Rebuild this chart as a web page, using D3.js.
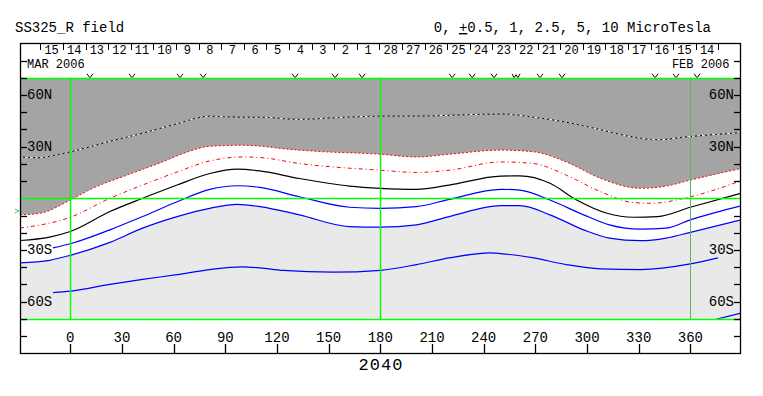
<!DOCTYPE html>
<html>
<head>
<meta charset="utf-8">
<script src="https://cdn.jsdelivr.net/npm/d3@7"></script>
<style>
  body { margin: 0; background: #fff; }
  text { font-family: "Liberation Mono", "DejaVu Sans Mono", monospace; }
</style>
</head>
<body>
<div id="container"></div>
<script>
(function(){

  // field contours, [longitude, latitude]
  var topDashed = [[-29.2,24],[-17.6,23.5],[-10,24.8],[0,26.9],[23,33.1],[42,37.8],[62,43.3],[81,47.7],[97,47.1],[110,47.1],[133,45.8],[152,46.7],[180,47.7],[201,47.7],[220,48.2],[250,49.0],[269,47.1],[288,44.2],[308,39.8],[327,35.5],[341,34.0],[360,35.9],[389.4,38.1]]
  var redDotted = [[-29.2,-9.6],[-17.6,-8.7],[0,-1.0],[13,5.8],[33,13.5],[52,20.5],[68,26.9],[81,30.2],[100,30.8],[110,30.3],[123.5,28.8],[143,27.3],[180,25.6],[201,24.0],[220,25.6],[250,28.0],[269,27.0],[288,21.1],[308,11.5],[331,5.8],[346,7.1],[360,10.6],[389.4,17.3]]
  var redDashDot = [[-29.2,-17.3],[0,-11.0],[23,0],[42,7.7],[62,15.3],[81,21.7],[100,24.0],[110,23.7],[133,20.2],[180,16.3],[201,15.0],[220,16.3],[250,21.1],[269,20.2],[288,13.4],[308,3.8],[327,-2.5],[337,-2.9],[360,0.9],[389.4,10.2]]
  var blackSolid = [[-29.2,-24.5],[-12,-22.5],[0,-19.3],[23,-7.7],[42,0],[62,7.7],[81,14.4],[97,16.9],[110,15.9],[133,11.5],[162,7.1],[180,5.8],[201,5.2],[220,7.7],[250,12.9],[261,13.0],[278.5,8.7],[294,-1.0],[311.6,-8.7],[327,-11.0],[341,-10.6],[360,-5.2],[389.4,2.9]]
  var blue1 = [[-10,-28.8],[0,-26.4],[23,-18.3],[42,-10.6],[62,-2.0],[81,5.2],[97,7.3],[110,6.3],[133,0.9],[162,-5.2],[180,-5.8],[201,-4.8],[220,-0.6],[250,5.2],[261,4.8],[278.5,-1.0],[298,-9.6],[313,-15.4],[331,-17.9],[346,-17.3],[360,-12.5],[389.4,-4.4]]
  var blue2 = [[-29.2,-37.5],[-12,-36.0],[0,-33.1],[23,-25.6],[42,-17.3],[62,-10.6],[81,-5.8],[97,-3.5],[110,-4.8],[133,-9.6],[162,-16.4],[180,-16.7],[201,-15.4],[220,-10.6],[250,-4.3],[261,-4.3],[278.5,-9.6],[298,-18.3],[313,-23.1],[331,-24.6],[346,-23.1],[360,-19.8],[389.4,-12.5]]
  var blue3 = [[-10,-54.8],[0,-53.9],[23,-50.0],[42,-47.1],[62,-44.3],[81,-41.4],[100,-39.8],[110,-40.4],[123.5,-41.9],[152.5,-42.9],[180,-41.8],[201,-38.5],[220,-34.6],[244,-31.7],[250,-32.1],[269,-34.6],[288,-38.5],[308,-41.0],[331,-41.4],[360,-38.1],[376,-34.6]]
  var blue4 = [[374,-70.5],[389.4,-66.7]]

  // axes
  var lonTicks = [0,30,60,90,120,150,180,210,240,270,300,330,360]
  var latMinor = [80,70,50,40,20,10,-10,-20,-40,-50,-70,-80]
  var latLabels = [60,30,-30,-60]
  var gridLon = [0,180,360]
  var gridLat = [70,0,-70]

  // dates along the top strip
  var dayLabels = ["15","14","13","12","11","10","9","8","7","6","5","4","3","2","1",
                   "28","27","26","25","24","23","22","21","20","19","18","17","16","15","14"]
  // pass markers: 1 = single v, 2 = double (w)
  var passLon = [11.4,35.8,63.7,77.1,130.5,153.7,169.4,221.7,233.3,246.0,258.8,272.7,285.5,339.5,351.7,363.9]
  var passCount = [1,1,1,1,1,1,1,1,1,1,2,1,1,1,1,1]
  var subsolarLat = -6.8

  var width = 763, height = 396

  var svg = d3.select("#container").append("svg")
      .attr("width", width).attr("height", height)

  var x = d3.scaleLinear().domain([-29.2, 389.4]).range([20, 741])
  var y = d3.scaleLinear().domain([90, -90]).range([43.3, 353.3])
  var days = d3.scaleBand().domain(d3.range(dayLabels.length)).range([x(-17.4), x(376.3)])

  var mapTop = y(70), mapBot = y(-70)

  svg.append("clipPath").attr("id","mapclip")
    .append("rect").attr("x",20).attr("y",mapTop).attr("width",721).attr("height",mapBot-mapTop)

  // pass markers, small v shapes sitting on the map top
  function vPath(cx, n){
    var p = d3.path()
    if (n === 1) {
      p.moveTo(cx - 3, mapTop - 4); p.lineTo(cx, mapTop); p.lineTo(cx + 3, mapTop - 4)
    } else {
      p.moveTo(cx - 4, mapTop - 4); p.lineTo(cx - 2, mapTop); p.lineTo(cx, mapTop - 3)
      p.lineTo(cx + 2, mapTop); p.lineTo(cx + 4, mapTop - 4)
    }
    return p.toString()
  }
  svg.selectAll(".pass").data(passLon).enter().append("path")
      .attr("d", (d,i) => vPath(x(d), passCount[i]))
      .attr("fill","none").attr("stroke","#000").attr("stroke-width",1)

  var map = svg.append("g").attr("clip-path","url(#mapclip)")

  map.append("rect").attr("x",20).attr("y",mapTop).attr("width",721).attr("height",mapBot-mapTop)
      .attr("fill","#e9e9e9")

  var curve = d3.curveMonotoneX
  var area = d3.area().x(d => x(d[0])).y0(mapTop).y1(d => y(d[1])).curve(curve)
  var line = d3.line().x(d => x(d[0])).y(d => y(d[1])).curve(curve)

  map.append("path").attr("d", area(blue2)).attr("fill","#fff")
  map.append("path").attr("d", area(redDotted)).attr("fill","#a4a4a4")

  // contours
  map.append("path").attr("d", line(topDashed)).attr("fill","none").attr("stroke","#000").attr("stroke-width",1)
  map.append("path").attr("d", line(topDashed)).attr("fill","none").attr("stroke","#fff").attr("stroke-width",1)
      .attr("stroke-dasharray","3,2")
  map.append("path").attr("d", line(redDotted)).attr("fill","none").attr("stroke","#ff0000").attr("stroke-width",1)
      .attr("stroke-dasharray","2,2")
  map.append("path").attr("d", line(redDashDot)).attr("fill","none").attr("stroke","#ff0000").attr("stroke-width",1)
      .attr("stroke-dasharray","4,3,1,3")
  map.append("path").attr("d", line(blackSolid)).attr("fill","none").attr("stroke","#000").attr("stroke-width",1.2)
  ;[blue1, blue2, blue3, blue4].forEach(function(b){
    map.append("path").attr("d", line(b)).attr("fill","none").attr("stroke","#0000ff").attr("stroke-width",1.2)
  })

  // green grid
  svg.selectAll(".glon").data(gridLon).enter().append("line")
      .attr("x1", d => Math.round(x(d)) + 0.5).attr("x2", d => Math.round(x(d)) + 0.5)
      .attr("y1", mapTop).attr("y2", mapBot)
      .attr("stroke", d => d === 360 ? "#55bb55" : "#00ff00")
      .attr("stroke-width", d => d === 360 ? 1 : 1.4)
  svg.selectAll(".glat").data(gridLat).enter().append("line")
      .attr("x1", 20).attr("x2", 741)
      .attr("y1", d => Math.round(y(d)) + 0.5).attr("y2", d => Math.round(y(d)) + 0.5)
      .attr("stroke","#00ff00").attr("stroke-width",1.4)

  // frame
  svg.append("rect").attr("x",20.5).attr("y",43.5).attr("width",720).attr("height",310)
      .attr("fill","none").attr("stroke","#000").attr("stroke-width",1.3)

  // latitude ticks both sides
  var latAll = latMinor.concat(latLabels)
  svg.selectAll(".tl").data(latAll).enter().append("line")
      .attr("x1",20).attr("x2",27)
      .attr("y1", d => Math.round(y(d)) + 0.5).attr("y2", d => Math.round(y(d)) + 0.5)
      .attr("stroke","#000").attr("stroke-width",1.3)
  svg.selectAll(".tr").data(latAll).enter().append("line")
      .attr("x1",734).attr("x2",741)
      .attr("y1", d => Math.round(y(d)) + 0.5).attr("y2", d => Math.round(y(d)) + 0.5)
      .attr("stroke","#000").attr("stroke-width",1.3)

  function latText(d){ return Math.abs(d) + (d > 0 ? "N" : "S") }
  svg.selectAll(".ll").data(latLabels).enter().append("text")
      .attr("x",27).attr("y", d => y(d) + 4.5)
      .style("font-size","14px").text(latText)
  svg.selectAll(".lr").data(latLabels).enter().append("text")
      .attr("x",734).attr("y", d => y(d) + 4.5).attr("text-anchor","end")
      .style("font-size","14px").text(latText)

  // subsolar marker
  svg.append("text").attr("x",14).attr("y", y(subsolarLat) + 3.5)
      .attr("fill","#00cc00").style("font-size","9px").text(">")

  // longitude ticks
  svg.selectAll(".tx").data(lonTicks).enter().append("line")
      .attr("x1", d => Math.round(x(d)) + 0.5).attr("x2", d => Math.round(x(d)) + 0.5)
      .attr("y1", 344).attr("y2", 353.3)
      .attr("stroke","#000").attr("stroke-width",1.3)
  svg.selectAll(".lx").data(lonTicks).enter().append("text")
      .attr("x", d => x(d)).attr("y", 342).attr("text-anchor","middle")
      .style("font-size","14px").text(d => d)

  // date strip
  var dayEdges = d3.range(dayLabels.length + 1)
  svg.selectAll(".td").data(dayEdges).enter().append("line")
      .attr("x1", d => Math.round(days.range()[0] + d * days.step()) + 0.5)
      .attr("x2", d => Math.round(days.range()[0] + d * days.step()) + 0.5)
      .attr("y1", 43.3).attr("y2", 50)
      .attr("stroke","#000").attr("stroke-width",1)
  svg.selectAll(".dl").data(dayLabels).enter().append("text")
      .attr("x", (d,i) => days(i) + days.bandwidth()/2).attr("y", 54)
      .attr("text-anchor","middle").style("font-size","12px").text(d => d)

  svg.append("text").attr("x",27).attr("y",68).style("font-size","12px").text("MAR 2006")
  svg.append("text").attr("x",729.5).attr("y",68).attr("text-anchor","end").style("font-size","12px").text("FEB 2006")

  // header
  svg.append("text").attr("x",15).attr("y",32).style("font-size","14px").text("SS325_R field")
  var hdr = svg.append("text").attr("x",711).attr("y",32).attr("text-anchor","end").style("font-size","14px")
  hdr.append("tspan").text("0, ")
  hdr.append("tspan").style("text-decoration","underline").text("+")
  hdr.append("tspan").text("0.5, 1, 2.5, 5, 10 MicroTesla")

  // year
  svg.append("text").attr("x",381).attr("y",370).attr("text-anchor","middle")
      .style("font-size","17px").style("letter-spacing","1px").text("2040")

})()
</script>
</body>
</html>
